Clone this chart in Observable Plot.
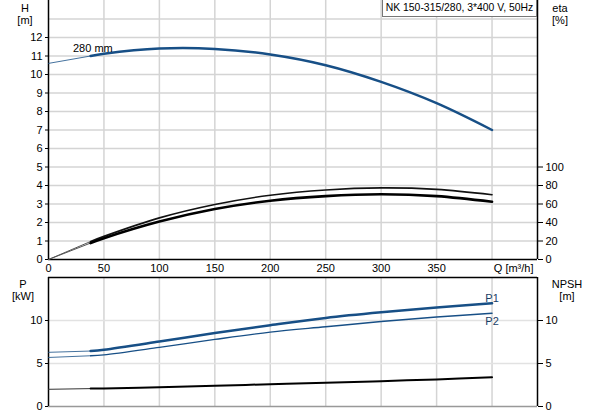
<!DOCTYPE html>
<html><head><meta charset="utf-8">
<script src="https://cdn.jsdelivr.net/npm/d3@7"></script>
<script src="https://cdn.jsdelivr.net/npm/@observablehq/plot@0.6"></script>
<style>
body{margin:0;background:#fff;font-family:Arial,"Liberation Sans",sans-serif;}
#wrap{position:relative;width:593px;height:415px;overflow:hidden;}
#topc,#botc{position:absolute;left:0;}
#topc{top:0;} #botc{top:270px;}
.lab{position:absolute;font-size:11px;color:#000;text-align:center;line-height:12px;}
#title{position:absolute;left:382px;top:-1px;width:153px;height:16px;border:1px solid #777;background:#fff;font-size:10.4px;line-height:16px;text-align:center;white-space:nowrap;}
</style></head><body>
<div id="wrap">
<div id="topc"></div><div id="botc"></div>
<div class="lab" style="left:14px;top:2px;width:22px">H<br>[m]</div>
<div class="lab" style="left:548px;top:2px;width:24px">eta<br>[%]</div>
<div class="lab" style="left:8px;top:278px;width:30px">P<br>[kW]</div>
<div class="lab" style="left:550px;top:278px;width:34px">NPSH<br>[m]</div>
<div id="title">NK 150-315/280, 3*400 V, 50Hz</div>
</div>
<script>
// Flow rate Q [m³/h]
const q = [0, 38, 50, 100, 150, 200, 250, 300, 350, 400];
// Head H [m]
const head = [10.6, 11.0, 11.12, 11.4, 11.38, 11.08, 10.5, 9.6, 8.45, 7.0];
// Efficiency eta [%] (two curves)
const etaUpper = [0, 19.5, 25, 45, 59.5, 69.5, 75.2, 77.4, 75.8, 70];
const etaLower = [0, 17.8, 23, 41, 54.5, 63.5, 68.5, 70.5, 68.5, 62.4];
// Power P [kW]
const p1 = [6.3, 6.45, 6.6, 7.55, 8.55, 9.45, 10.3, 10.95, 11.5, 12.0];
const p2 = [5.7, 5.9, 6.0, 6.87, 7.8, 8.65, 9.27, 9.88, 10.4, 10.85];
// NPSH [m]
const npsh = [2.0, 2.08, 2.1, 2.25, 2.4, 2.6, 2.75, 2.95, 3.15, 3.4];

const xTicks = [0, 50, 100, 150, 200, 250, 300, 350];
const hTicks = [0,1,2,3,4,5,6,7,8,9,10,11,12];
const etaTicks = [0, 20, 40, 60, 80, 100];
const pTicks = [0, 5, 10];

const blue = "#174f86";
const rows = q.map((x,i)=>({q:x, h:head[i], eu:etaUpper[i], el:etaLower[i], p1:p1[i], p2:p2[i], n:npsh[i]}));
const startRows = rows.filter(d=>d.q<=38);
const mainRows = rows.filter(d=>d.q>=38);
const curve = "catmull-rom";
const etaK = 20; // eta % per H unit on the shared vertical scale
const grid = "#d4d4d4";
const font = "Arial, 'Liberation Sans', sans-serif";

const topPlot = Plot.plot({
  width:593, height:275, marginLeft:48, marginRight:56, marginTop:0, marginBottom:16,
  style:{fontFamily:font, fontSize:"11px", background:"#fff", overflow:"visible"},
  x:{domain:[0,441], axis:null}, y:{domain:[0,14], axis:null},
  marks:[
    Plot.gridX([50,100,150,200,250,300,350,400], {stroke:grid, strokeOpacity:1, strokeWidth:1.5}),
    Plot.gridY([1,2,3,4,5,6,7,8,9,10,11,12,13], {stroke:grid, strokeOpacity:1, strokeWidth:1.5}),
    Plot.axisX(xTicks, {tickSize:0, tickPadding:5, label:null, fontSize:11}),
    Plot.text(["Q [m³/h]"], {frameAnchor:"bottom-right", dy:12, dx:-4, fontSize:11}),
    Plot.axisY(hTicks, {tickSize:3, tickPadding:3, label:null, fontSize:11}),
    Plot.axisY(etaTicks.map(d=>d/etaK), {anchor:"right", tickSize:5, tickPadding:3, tickFormat:d=>Math.round(d*etaK), label:null, fontSize:11}),
    Plot.ruleY([0], {stroke:"#000", strokeWidth:1.5}),
    Plot.ruleX([0], {stroke:"#000", strokeWidth:1.5}),
    Plot.ruleX([441], {stroke:"#000", strokeWidth:1.5}),
    Plot.line(startRows, {x:"q", y:"h", stroke:blue, strokeWidth:1, strokeOpacity:0.8, curve}),
    Plot.line(startRows, {x:"q", y:d=>d.eu/etaK, stroke:"#555", strokeWidth:1, curve}),
    Plot.line(startRows, {x:"q", y:d=>d.el/etaK, stroke:"#555", strokeWidth:1, curve}),
    Plot.line(mainRows, {x:"q", y:"h", stroke:blue, strokeWidth:2.5, curve}),
    Plot.line(mainRows, {x:"q", y:d=>d.eu/etaK, stroke:"#111", strokeWidth:1.6, curve}),
    Plot.line(mainRows, {x:"q", y:d=>d.el/etaK, stroke:"#000", strokeWidth:2.6, curve}),
    Plot.text(["280 mm"], {x:[40], y:[11.4], fontSize:11})
  ]
});
document.getElementById("topc").appendChild(topPlot);

const botPlot = Plot.plot({
  width:593, height:145, marginLeft:48, marginRight:56, marginTop:7, marginBottom:9,
  style:{fontFamily:font, fontSize:"11px", background:"transparent", overflow:"visible"},
  x:{domain:[0,441], axis:null}, y:{domain:[0,15], axis:null},
  marks:[
    Plot.gridX([50,100,150,200,250,300,350,400], {stroke:grid, strokeOpacity:1, strokeWidth:1.5}),
    Plot.gridY([5,10], {stroke:"#e2e2e2", strokeOpacity:1, strokeWidth:1.5}),
    Plot.axisY(pTicks, {tickSize:3, tickPadding:3, label:null, fontSize:11}),
    Plot.axisY(pTicks, {anchor:"right", tickSize:5, tickPadding:3, label:null, fontSize:11}),
    Plot.ruleY([0], {stroke:"#999", strokeWidth:1.5}),
    Plot.ruleY([15], {stroke:"#000", strokeWidth:1.5}),
    Plot.ruleX([0], {stroke:"#000", strokeWidth:1.5}),
    Plot.ruleX([441], {stroke:"#000", strokeWidth:1.5}),
    Plot.line(startRows, {x:"q", y:"p1", stroke:blue, strokeWidth:1, strokeOpacity:0.8, curve}),
    Plot.line(startRows, {x:"q", y:"p2", stroke:blue, strokeWidth:1, strokeOpacity:0.8, curve}),
    Plot.line(startRows, {x:"q", y:"n", stroke:"#333", strokeWidth:1, curve}),
    Plot.line(mainRows, {x:"q", y:"p1", stroke:blue, strokeWidth:2.5, curve}),
    Plot.line(mainRows, {x:"q", y:"p2", stroke:blue, strokeWidth:1.4, curve}),
    Plot.line(mainRows, {x:"q", y:"n", stroke:"#000", strokeWidth:2, curve}),
    Plot.text(["P1","P2"], {x:[400,400], y:[12.6,9.9], fontSize:11, fill:"#1a3d66"})
  ]
});
document.getElementById("botc").appendChild(botPlot);
</script>
</body></html>
